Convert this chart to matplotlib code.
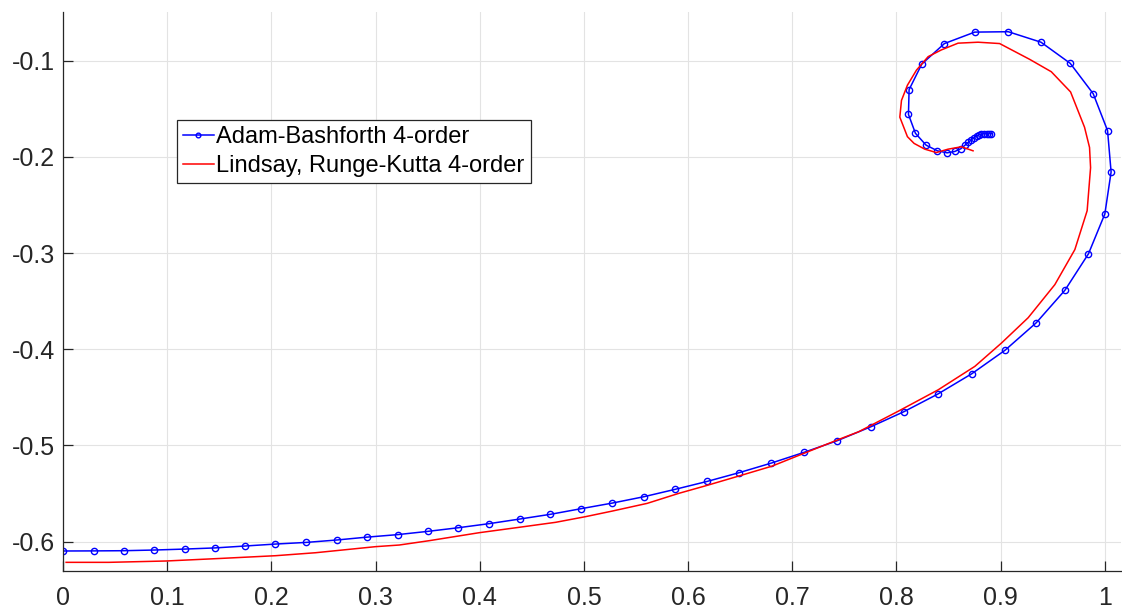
import matplotlib
matplotlib.use("Agg")
import matplotlib.pyplot as plt

plt.rcParams['font.family'] = ['Liberation Sans', 'DejaVu Sans']

# Adam-Bashforth 4-order (blue, with markers)
ab_x = [0.0003, 0.0294, 0.0585, 0.0875, 0.1169, 0.1460, 0.1751, 0.2038, 0.2332, 0.2626, 0.2917,
        0.3211, 0.3502, 0.3796, 0.4089, 0.4383, 0.4677, 0.4974, 0.5272, 0.5575, 0.5872, 0.6182,
        0.6486, 0.6799, 0.7109, 0.7428, 0.7751, 0.8073, 0.8396, 0.8722, 0.9042, 0.9342, 0.9617,
        0.9843, 1.0000, 1.0060, 1.0026, 0.9888, 0.9668, 0.9387, 0.9073, 0.8751, 0.8460, 0.8243,
        0.8121, 0.8115, 0.8182, 0.8284, 0.8393, 0.8486, 0.8559, 0.8617, 0.8655, 0.8690, 0.8719,
        0.8744, 0.8770, 0.8792, 0.8815, 0.8840, 0.8866, 0.8891, 0.8910]
ab_y = [-0.6097, -0.6096, -0.6094, -0.6087, -0.6077, -0.6065, -0.6045, -0.6025, -0.6008, -0.5983, -0.5953,
        -0.5927, -0.5893, -0.5855, -0.5813, -0.5765, -0.5716, -0.5657, -0.5599, -0.5533, -0.5457, -0.5374,
        -0.5284, -0.5183, -0.5073, -0.4952, -0.4807, -0.4648, -0.4466, -0.4255, -0.4010, -0.3724, -0.3386,
        -0.3007, -0.2593, -0.2157, -0.1727, -0.1343, -0.1028, -0.0808, -0.0699, -0.0703, -0.0822, -0.1035,
        -0.1301, -0.1559, -0.1755, -0.1878, -0.1937, -0.1958, -0.1944, -0.1916, -0.1881, -0.1850, -0.1822,
        -0.1801, -0.1783, -0.1769, -0.1762, -0.1759, -0.1759, -0.1759, -0.1759]

# Lindsay, Runge-Kutta 4-order (red)
rk_x = [0.003, 0.044, 0.099, 0.150, 0.204, 0.2425, 0.300, 0.3227, 0.3514, 0.3994, 0.4377, 0.4728,
        0.5016, 0.5272, 0.5607, 0.591, 0.6182, 0.6486, 0.6805, 0.7093, 0.7444, 0.7636, 0.8017,
        0.8401, 0.8752, 0.9008, 0.9264, 0.952, 0.9712, 0.983, 0.9863, 0.9853, 0.9805, 0.9671,
        0.9486, 0.9278, 0.899, 0.8783, 0.8591, 0.8431, 0.8304, 0.8192, 0.8105, 0.8048, 0.8032,
        0.8105, 0.8169, 0.8272, 0.8383, 0.8495, 0.8623, 0.8735]
rk_y = [-0.6215, -0.6215, -0.6201, -0.6175, -0.6146, -0.6115, -0.6052, -0.6035, -0.599, -0.5907, -0.5851, -0.5799,
        -0.574, -0.5682, -0.5602, -0.5498, -0.5415, -0.5318, -0.5215, -0.509, -0.4938, -0.4858, -0.4644,
        -0.4421, -0.4178, -0.3935, -0.3672, -0.3328, -0.2964, -0.256, -0.2112, -0.1902, -0.1692, -0.1325,
        -0.1115, -0.0986, -0.0822, -0.0808, -0.0818, -0.0888, -0.0958, -0.1098, -0.1255, -0.1413, -0.1587,
        -0.179, -0.186, -0.192, -0.1955, -0.192, -0.1895, -0.1937]

xticks = [0, 0.1, 0.2, 0.3, 0.4, 0.5, 0.6, 0.7, 0.8, 0.9, 1]
xticklabels = ['0', '0.1', '0.2', '0.3', '0.4', '0.5', '0.6', '0.7', '0.8', '0.9', '1']
yticks = [-0.6, -0.5, -0.4, -0.3, -0.2, -0.1]
yticklabels = ['-0.6', '-0.5', '-0.4', '-0.3', '-0.2', '-0.1']

fig = plt.figure(figsize=(11.22, 6.11), dpi=100)
ax = fig.add_axes([63 / 1122, 40 / 611, 1058 / 1122, 559 / 611])

ax.plot(ab_x, ab_y, color='blue', lw=1.1, marker='o', markersize=4.5,
        markerfacecolor='none', markeredgewidth=1.0, label='Adam-Bashforth 4-order')
ax.plot(rk_x, rk_y, color='red', lw=1.1, label='Lindsay, Runge-Kutta 4-order')

ax.set_xlim(0, 1.0155)
ax.set_ylim(-0.6305, -0.0494)
ax.set_xticks(xticks)
ax.set_xticklabels(xticklabels)
ax.set_yticks(yticks)
ax.set_yticklabels(yticklabels)

ax.grid(True, color='#e3e3e3', lw=0.8)
ax.set_axisbelow(True)
for s in ['top', 'right']:
    ax.spines[s].set_visible(False)
for s in ['left', 'bottom']:
    ax.spines[s].set_color('#262626')
    ax.spines[s].set_linewidth(0.9)
ax.tick_params(direction='in', length=7.5, width=0.9, color='#262626',
               labelsize=18, labelcolor='#262626')
ax.tick_params(axis='x', pad=10.5)
ax.tick_params(axis='y', pad=6)

leg = ax.legend(loc='upper left', bbox_to_anchor=(0.1075, 0.807), borderaxespad=0,
                fontsize=17, frameon=True, fancybox=False, handlelength=1.3,
                handletextpad=0.1, borderpad=0.27, labelspacing=0.28, markerscale=0.75)
leg.get_frame().set_edgecolor('#262626')
leg.get_frame().set_linewidth(0.9)
leg.get_frame().set_alpha(1)

fig.savefig('out.png', dpi=100)
